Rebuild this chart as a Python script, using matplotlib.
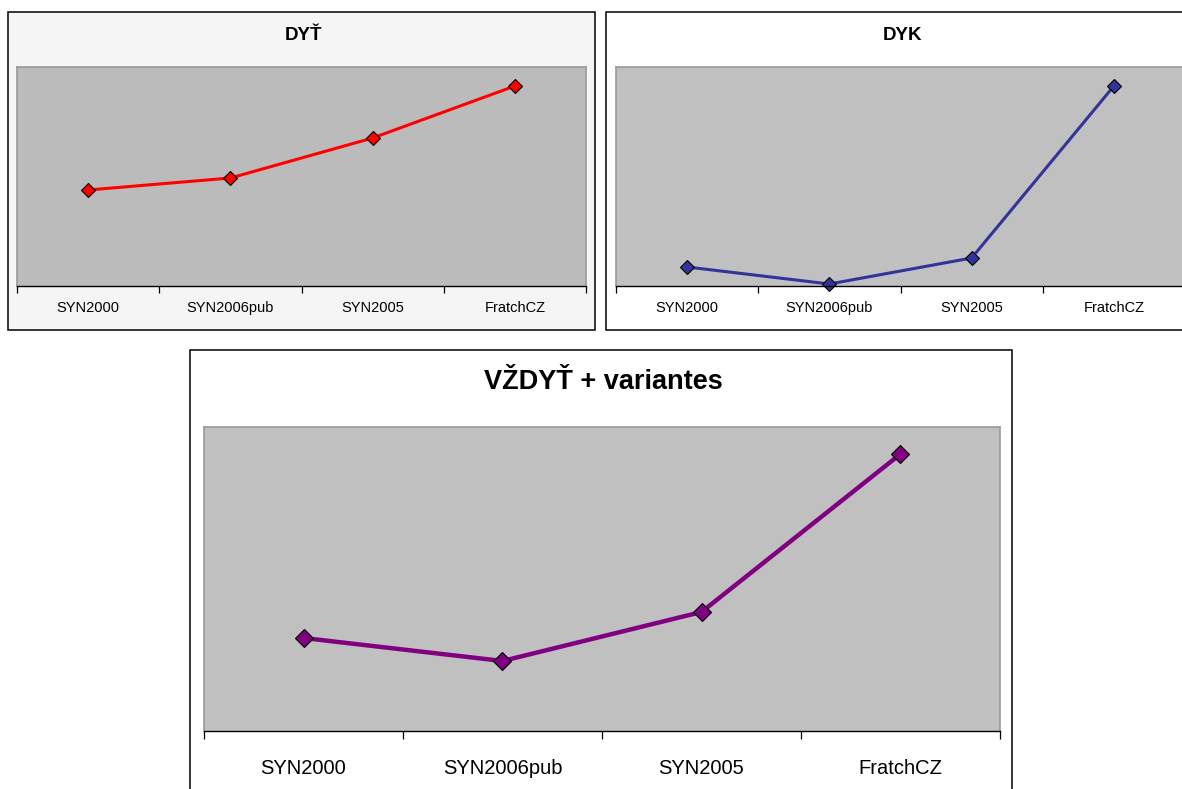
import matplotlib
matplotlib.use('Agg')
import matplotlib.pyplot as plt
from matplotlib.patches import Rectangle

plt.rcParams['font.family'] = ['Liberation Sans', 'DejaVu Sans']

corpora = ['SYN2000', 'SYN2006pub', 'SYN2005', 'FratchCZ']
dyt = [96, 108, 148, 200]
dyk = [19, 2, 28, 200]
vzdyt = [93, 70, 119, 277]

W, H = 1182, 789
fig = plt.figure(figsize=(W / 100, H / 100), dpi=100)


def box(x0, y0, x1, y1):
    # pixel box (top-left origin) -> figure fraction
    return [x0 / W, 1 - y1 / H, (x1 - x0) / W, (y1 - y0) / H]


def panel(frame, area, title, title_xy, values, ymax, color, bg,
          plotbg, title_size, label_size, lw, ms, tick_len, pad):
    fx0, fy0, fx1, fy1 = frame
    fig.patches.append(Rectangle((fx0 / W, 1 - fy1 / H), (fx1 - fx0) / W,
                                 (fy1 - fy0) / H, transform=fig.transFigure,
                                 facecolor=bg, edgecolor='black',
                                 linewidth=1.1, zorder=-1))
    fig.text(title_xy[0] / W, 1 - title_xy[1] / H, title, ha='center',
             va='center', fontsize=title_size, fontweight='bold')

    ax = fig.add_axes(box(*area))
    ax.set_facecolor(plotbg)
    x = [i + 0.5 for i in range(len(corpora))]
    ax.plot(x, values, color=color, linewidth=lw, marker='D',
            markersize=ms, markerfacecolor=color, markeredgecolor='black',
            markeredgewidth=0.8, clip_on=False)
    ax.set_xlim(0, len(corpora))
    ax.set_ylim(0, ymax)
    ax.set_xticks(range(len(corpora) + 1))
    ax.set_xticklabels([])
    ax.set_xticks(x, minor=True)
    ax.set_xticklabels(corpora, minor=True, fontsize=label_size, va='baseline')
    ax.tick_params(axis='x', which='major', direction='out',
                   length=tick_len, width=0.9, color='black')
    ax.tick_params(axis='x', which='minor', length=0, pad=pad)
    ax.set_yticks([])
    for side in ['top', 'left', 'right']:
        ax.spines[side].set_color('#999999')
        ax.spines[side].set_linewidth(1.2)
    ax.spines['bottom'].set_color('black')
    ax.spines['bottom'].set_linewidth(1.0)
    return ax


panel((8, 12, 595, 330), (17, 67, 586, 286), 'DYŤ', (303, 36), dyt, 219,
      '#ff0000', '#f5f5f5', '#bbbbbb', 13.5, 10.5, 2.2, 7, 5, 19)
panel((606, 12, 1200, 330), (616, 67, 1185, 286), 'DYK', (902, 36), dyk,
      219, '#333399', 'white', '#c0c0c0', 13.5, 10.5, 2.2, 7, 5, 19)
panel((190, 350, 1012, 800), (204, 427, 1000, 731), 'VŽDYŤ + variantes',
      (603, 382), vzdyt, 304, '#800080', 'white', '#c0c0c0', 19.5, 14.5,
      3.2, 9.5, 6, 31)

fig.savefig('out.png', dpi=100)
